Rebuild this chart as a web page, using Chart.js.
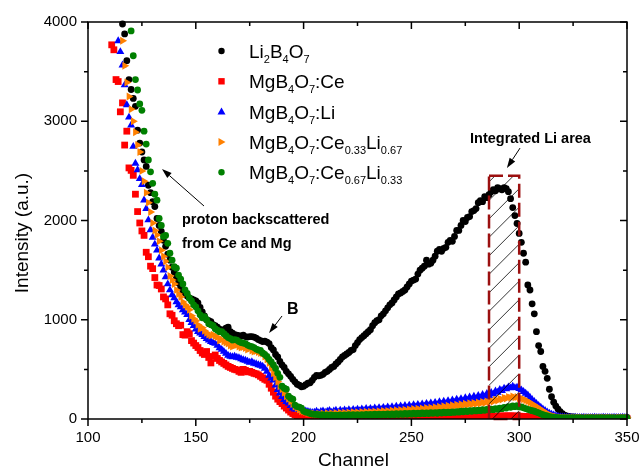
<!DOCTYPE html>
<html>
<head>
<meta charset="utf-8">
<script src="https://cdn.jsdelivr.net/npm/chart.js@4.4.1/dist/chart.umd.min.js"></script>
<style>
  html, body { margin: 0; padding: 0; background: #fff; }
</style>
</head>
<body>
<canvas id="myChart" width="642" height="468"></canvas>
<script>
// channel axis / intensity axis
var xMajor = [100, 150, 200, 250, 300, 350];
var xMinor = [125, 175, 225, 275, 325];
var yMajor = [0, 1000, 2000, 3000, 4000];
var yMinor = [500, 1500, 2500, 3500];

// Li2B4O7, one value per channel starting at liBoStart
var liBoStart = 116;
var liBo = [
    3980, 3880, 3610, 3420, 3320, 3230, 3150, 2910, 2780, 2690,
    2610, 2545, 2355, 2280, 2190, 2140, 2020, 1950, 1890, 1800,
    1740, 1660, 1600, 1530, 1480, 1420, 1370, 1330, 1290, 1270,
    1240, 1220, 1210, 1200, 1190, 1170, 1125, 1080, 1040, 1000,
    990, 980, 950, 940, 925, 905, 880, 900, 915, 925,
    880, 865, 850, 845, 840, 835, 845, 830, 825, 830,
    830, 825, 815, 800, 790, 780, 785, 775, 760, 720,
    695, 650, 625, 580, 545, 520, 480, 455, 430, 400,
    375, 350, 340, 325, 330, 345, 360, 365, 390, 420,
    440, 435, 440, 450, 470, 480, 500, 520, 530, 555,
    575, 600, 625, 640, 655, 670, 690, 700, 740, 770,
    800, 820, 840, 860, 880, 900, 940, 970, 990, 1000,
    1040, 1060, 1090, 1120, 1150, 1170, 1200, 1230, 1260, 1270,
    1285, 1300, 1330, 1360, 1390, 1400, 1410, 1460, 1500, 1520,
    1540, 1600, 1560, 1570, 1600, 1640, 1690, 1710, 1690, 1720,
    1730, 1780, 1800, 1790, 1840, 1900, 1900, 1950, 2000, 1990,
    2030, 2040, 2090, 2100, 2120, 2180, 2200, 2190, 2240, 2230,
    2260, 2290, 2310, 2300, 2330, 2320, 2310, 2330, 2320, 2290,
    2220, 2130, 2050, 1970, 1870, 1780, 1670, 1580, 1350, 1300,
    1160, 1060, 880, 740, 680, 530, 480, 410, 300, 225,
    170, 130, 100, 75,
    55, 40, 30, 25, 22, 20, 18, 17, 16, 15,
    15, 14, 15, 14, 15, 14, 15, 14, 15, 14,
    15, 14, 15, 14, 15, 14, 15, 14, 15, 14, 15
];

// MgB4O7:Ce
var mgCeStart = 111;
var mgCe = [
    3770, 3720, 3420, 3400, 3095, 3185, 2760, 2900, 2530, 2505,
    2455, 2265, 2090, 1975, 1895, 1850, 1680, 1635, 1540, 1515,
    1425, 1350, 1345, 1310, 1230, 1210, 1150, 1060, 1045, 990,
    960, 940, 945, 850, 845, 880, 860, 790, 765, 740,
    720, 690, 665, 650, 680, 620, 565, 630, 645, 610,
    590, 575, 560, 545, 530, 520, 510, 500, 495, 480,
    470, 500, 490, 475, 480, 470, 460, 455, 445, 430,
    415, 400, 390, 350, 310, 270, 230, 200, 175, 155,
    130, 110, 90, 70, 55, 42, 30, 22, 15,
    12, 10, 9, 8, 8, 7, 8, 7, 8, 7,
    8, 7, 8, 8, 7, 8, 8, 7, 8, 8,
    8, 9, 8, 9, 8, 9, 9, 8, 9, 9,
    9, 10, 9, 10, 10, 9, 10, 10, 11, 10,
    11, 10, 11, 11, 12, 11, 12, 12, 13, 12,
    13, 13, 14, 13, 14, 14, 15, 14, 15, 15,
    16, 15, 16, 16, 17, 17, 18, 17, 18, 18,
    19, 19, 20, 20, 21, 21, 22, 22, 23, 23,
    24, 24, 25, 25, 26, 26, 27, 27, 28, 28,
    29, 29, 30, 30, 30, 31, 31, 30, 30, 29,
    28, 27, 26, 25, 23, 21, 19, 17, 15, 13,
    12, 10, 9, 8, 7, 6, 6, 5, 5, 5,
    5, 4, 5, 5, 4, 5, 5, 4, 5, 5, 4, 5, 5, 4, 5, 5,
    4, 5, 5, 4, 5, 5, 4, 5, 5, 4, 5, 5, 4, 5, 5
];

// MgB4O7:Li
var mgLiStart = 114;
var mgLi = [
    3810, 3700, 3565, 3365, 3165, 3040, 2960, 2745, 2575, 2510,
    2420, 2360, 2205, 2120, 2005, 1905, 1830, 1760, 1700, 1620,
    1560, 1500, 1430, 1360, 1300, 1250, 1220, 1180, 1150, 1130,
    1100, 1075, 1050, 1000, 970, 940, 905, 880, 865, 850,
    830, 810, 795, 780, 770, 760, 740, 715, 700, 680,
    660, 640, 630, 625, 630, 620, 615, 605, 595, 590,
    580, 570, 575, 560, 555, 545, 540, 530, 510, 480,
    440, 410, 390, 340, 295, 260, 225, 195, 175, 160,
    135, 110, 100, 95, 105, 90, 85, 80, 75, 70, 65,
    68, 78, 62, 74, 80, 66, 76, 84, 67, 79,
    86, 70, 88, 74, 90, 76, 93, 78, 95, 81,
    98, 83, 100, 85, 104, 88, 106, 90, 110, 92,
    113, 95, 116, 97, 120, 100, 122, 103, 127, 106,
    130, 109, 134, 112, 138, 116, 142, 120, 146, 124,
    151, 128, 156, 132, 161, 137, 166, 142, 172, 147,
    178, 153, 184, 158, 190, 165, 197, 172, 204, 180,
    212, 186, 220, 194, 228, 202, 236, 210, 245, 220,
    255, 235, 266, 250, 280, 268, 295, 285, 310, 302,
    322, 312, 328, 315, 318, 305, 292, 275, 258, 240,
    218, 195, 175, 155, 135, 118, 100, 85, 70, 58,
    48, 40, 32, 26, 22, 20, 18, 17, 16, 16,
    15, 16, 15, 14, 15, 16, 15, 14, 15, 15, 16, 15, 14,
    15, 16, 15, 14, 15, 15, 16, 15, 14, 15, 16, 15, 15
];

// MgB4O7:Ce0.33Li0.67
var ce33Start = 116;
var ce33 = [
    3810, 3560, 3390, 3250, 3120, 3000, 2890, 2760, 2690, 2500,
    2395, 2280, 2180, 2085, 1975, 1900, 1855, 1790, 1700, 1640,
    1590, 1530, 1440, 1400, 1360, 1300, 1260, 1230, 1180, 1150,
    1130, 1100, 1040, 1010, 990, 950, 910, 920, 890, 870,
    850, 840, 850, 835, 825, 790, 800, 780, 770, 760,
    740, 730, 740, 745, 730, 720, 725, 715, 700, 710,
    690, 680, 685, 675, 665, 660, 630, 600, 565, 510,
    460, 420, 375, 330, 300, 265, 230, 205, 175, 150,
    125, 110, 95, 80, 75, 70, 60, 55, 55,
    52, 44, 54, 46, 55, 44, 58, 46, 59, 47,
    60, 48, 62, 50, 63, 51, 65, 53, 67, 55,
    68, 56, 70, 58, 72, 60, 74, 62, 76, 64,
    78, 66, 80, 68, 82, 70, 85, 73, 88, 76,
    91, 79, 94, 82, 97, 85, 100, 88, 103, 91,
    106, 94, 110, 98, 114, 102, 118, 106, 123, 111,
    128, 116, 133, 121, 138, 126, 143, 131, 148, 136,
    153, 141, 158, 146, 162, 150, 167, 155, 172, 160,
    177, 168, 185, 176, 195, 186, 205, 196, 214, 206,
    222, 214, 226, 218, 222, 210, 206, 198, 190, 178,
    165, 150, 138, 125, 110, 96, 82, 68, 55, 44,
    35, 28, 22, 18, 15, 14, 13, 12, 12, 12,
    12, 11, 12, 13, 12, 11, 12, 12, 13, 12, 11, 12, 12,
    13, 12, 11, 12, 12, 13, 12, 11, 12, 12, 13, 12, 12
];

// MgB4O7:Ce0.67Li0.33
var ce67Start = 120;
var ce67 = [
    3910, 3660, 3420, 3315, 3175, 3110, 2900, 2770, 2610, 2490,
    2375, 2265, 2205, 2020, 1950, 1840, 1850, 1770, 1670, 1600,
    1535, 1520, 1450, 1410, 1360, 1300, 1265, 1220, 1190, 1150,
    1130, 1090, 1050, 1020, 1030, 1000, 960, 950, 940, 910,
    895, 880, 880, 860, 840, 820, 810, 795, 800, 795,
    780, 770, 765, 760, 745, 735, 730, 720, 705, 695,
    690, 665, 650, 630, 600, 575, 545, 510, 460, 420,
    330, 310, 300, 230, 210, 200, 140, 125, 120, 110,
    80, 70, 65, 55, 50, 48, 46,
    44, 38, 43, 35, 41, 33, 41, 32, 40, 34,
    41, 33, 42, 34, 43, 35, 44, 35, 44, 37,
    45, 37, 46, 38, 47, 39, 48, 40, 49, 41,
    50, 42, 51, 43, 52, 44, 53, 45, 54, 46,
    56, 48, 57, 49, 58, 50, 60, 52, 61, 54,
    62, 55, 63, 57, 65, 58, 66, 60, 68, 62,
    70, 64, 72, 66, 75, 69, 78, 72, 81, 75,
    84, 78, 87, 81, 90, 84, 93, 87, 96, 90,
    99, 94, 104, 98, 109, 104, 116, 110, 124, 118,
    132, 124, 134, 122, 122, 113, 105, 97, 90, 84,
    78, 70, 62, 52, 44, 36, 30, 24, 20, 17,
    15, 13, 12, 12, 11, 11, 10, 10, 10, 10,
    10, 11, 10, 9, 10, 11, 10, 10, 9, 10, 11, 10,
    10, 9, 10, 11, 10, 10, 9, 10, 11, 10, 10, 10
];

// hatched "Integrated Li area" window (channel from/to, height)
var liAreaFrom = 286, liAreaTo = 300, liAreaTop = 2450;

var legendLabels = [
    [['Li', 0], ['2', 1], ['B', 0], ['4', 1], ['O', 0], ['7', 1]],
    [['MgB', 0], ['4', 1], ['O', 0], ['7', 1], [':Ce', 0]],
    [['MgB', 0], ['4', 1], ['O', 0], ['7', 1], [':Li', 0]],
    [['MgB', 0], ['4', 1], ['O', 0], ['7', 1], [':Ce', 0], ['0.33', 1], ['Li', 0], ['0.67', 1]],
    [['MgB', 0], ['4', 1], ['O', 0], ['7', 1], [':Ce', 0], ['0.67', 1], ['Li', 0], ['0.33', 1]]
];

var FONT = 'Arial, "Liberation Sans", sans-serif';

function pts(start, vals) {
    return vals.map(function (v, i) { return { x: start + i, y: v }; });
}

function arrow(ctx, x1, y1, x2, y2) {
    var a = Math.atan2(y2 - y1, x2 - x1), L = 10, W = 3.3;
    var bx = x2 - L * Math.cos(a), by = y2 - L * Math.sin(a);
    ctx.beginPath();
    ctx.moveTo(x1, y1);
    ctx.lineTo(bx, by);
    ctx.stroke();
    ctx.beginPath();
    ctx.moveTo(x2, y2);
    ctx.lineTo(bx + W * Math.sin(a), by - W * Math.cos(a));
    ctx.lineTo(bx - W * Math.sin(a), by + W * Math.cos(a));
    ctx.closePath();
    ctx.fill();
}

function marker(ctx, style, x, y, color) {
    ctx.fillStyle = color;
    ctx.beginPath();
    if (style === 'circle') {
        ctx.arc(x, y, 3.2, 0, Math.PI * 2);
    } else if (style === 'rect') {
        ctx.rect(x - 3.2, y - 3.2, 6.4, 6.4);
    } else if (style === 'up') {
        ctx.moveTo(x, y - 4); ctx.lineTo(x + 4, y + 3); ctx.lineTo(x - 4, y + 3);
    } else {
        ctx.moveTo(x + 4, y); ctx.lineTo(x - 3, y - 4); ctx.lineTo(x - 3, y + 4);
    }
    ctx.closePath();
    ctx.fill();
}

var overlay = {
    id: 'overlay',
    afterDatasetsDraw: function (chart) {
        var ctx = chart.ctx, xs = chart.scales.x, ys = chart.scales.y;
        var x1 = xs.getPixelForValue(liAreaFrom), x2 = xs.getPixelForValue(liAreaTo);
        var yT = ys.getPixelForValue(liAreaTop), yB = ys.getPixelForValue(0);
        ctx.save();
        // hatching
        ctx.beginPath();
        ctx.rect(x1, yT, x2 - x1, yB - yT);
        ctx.clip();
        ctx.strokeStyle = '#000';
        ctx.lineWidth = 0.8;
        var w = x2 - x1;
        for (var c = yT + 6; c < yB + w; c += 18.5) {
            ctx.beginPath();
            ctx.moveTo(x1, c);
            ctx.lineTo(x2, c - w);
            ctx.stroke();
        }
        ctx.restore();
        // dashed outline
        ctx.save();
        ctx.strokeStyle = '#9b1010';
        ctx.lineWidth = 2.5;
        ctx.setLineDash([14, 5]);
        ctx.strokeRect(x1, yT, w, yB - yT);
        ctx.restore();
    },
    afterDraw: function (chart) {
        var ctx = chart.ctx, a = chart.chartArea, xs = chart.scales.x, ys = chart.scales.y;
        ctx.save();
        ctx.strokeStyle = '#000';
        ctx.fillStyle = '#000';
        ctx.lineWidth = 1.5;
        ctx.strokeRect(a.left, a.top, a.right - a.left, a.bottom - a.top);
        // ticks: out on bottom/left, in on top/right
        ctx.beginPath();
        xMajor.concat(xMinor).forEach(function (v) {
            var len = xMajor.indexOf(v) >= 0 ? 7 : 4;
            var px = xs.getPixelForValue(v);
            ctx.moveTo(px, a.bottom); ctx.lineTo(px, a.bottom + len);
            ctx.moveTo(px, a.top); ctx.lineTo(px, a.top + len);
        });
        yMajor.concat(yMinor).forEach(function (v) {
            var len = yMajor.indexOf(v) >= 0 ? 7 : 4;
            var py = ys.getPixelForValue(v);
            ctx.moveTo(a.left, py); ctx.lineTo(a.left - len, py);
            ctx.moveTo(a.right, py); ctx.lineTo(a.right - len, py);
        });
        ctx.stroke();

        // axis titles
        ctx.font = '19px ' + FONT;
        ctx.textAlign = 'center';
        ctx.textBaseline = 'alphabetic';
        ctx.fillText('Channel', (a.left + a.right) / 2 - 4, 466);
        ctx.save();
        ctx.translate(28, 233);
        ctx.rotate(-Math.PI / 2);
        ctx.fillText('Intensity (a.u.)', 0, 0);
        ctx.restore();

        // legend
        ctx.textAlign = 'left';
        var styles = ['circle', 'rect', 'up', 'right'];
        var sets = chart.data.datasets;
        legendLabels.forEach(function (parts, i) {
            var y = 51 + i * 30.3;
            var st = i === 0 || i === 4 ? 'circle' : styles[i];
            marker(ctx, st, 221.5, y, sets[i].backgroundColor);
            ctx.fillStyle = '#000';
            var x = 249;
            parts.forEach(function (p) {
                ctx.font = (p[1] ? '11px ' : '19px ') + FONT;
                ctx.fillText(p[0], x, p[1] ? y + 12 : y + 7);
                x += ctx.measureText(p[0]).width;
            });
        });

        // annotations
        ctx.fillStyle = '#000';
        ctx.font = 'bold 14.5px ' + FONT;
        ctx.fillText('proton backscattered', xs.getPixelForValue(143.6), ys.getPixelForValue(1965));
        ctx.fillText('from Ce and Mg', xs.getPixelForValue(143.6), ys.getPixelForValue(1723));
        ctx.fillText('Integrated Li area', xs.getPixelForValue(277.2), ys.getPixelForValue(2784));
        ctx.font = 'bold 16px ' + FONT;
        ctx.fillText('B', xs.getPixelForValue(192.3), ys.getPixelForValue(1058));
        ctx.lineWidth = 1;
        arrow(ctx, xs.getPixelForValue(153.8), ys.getPixelForValue(2146), xs.getPixelForValue(134.3), ys.getPixelForValue(2519));
        arrow(ctx, xs.getPixelForValue(190.0), ys.getPixelForValue(1038), xs.getPixelForValue(184.0), ys.getPixelForValue(866));
        arrow(ctx, xs.getPixelForValue(300.4), ys.getPixelForValue(2730), xs.getPixelForValue(294.3), ys.getPixelForValue(2529));
        ctx.restore();
    }
};

var ctx = document.getElementById('myChart').getContext('2d');
var clipBox = { left: 6, top: 6, right: 6, bottom: 0 };

var chart = new Chart(ctx, {
    type: 'scatter',
    data: {
        datasets: [{
            label: 'Li2B4O7',
            data: pts(liBoStart, liBo),
            pointStyle: 'circle',
            pointRadius: 3.4,
            backgroundColor: '#000000',
            borderColor: '#000000',
            borderWidth: 0,
            order: 5,
            clip: clipBox
        }, {
            label: 'MgB4O7:Ce',
            data: pts(mgCeStart, mgCe),
            pointStyle: 'rect',
            pointRadius: 4.8,
            backgroundColor: '#ff0000',
            borderColor: '#ff0000',
            borderWidth: 0,
            order: 4,
            clip: clipBox
        }, {
            label: 'MgB4O7:Li',
            data: pts(mgLiStart, mgLi),
            pointStyle: 'triangle',
            pointRadius: 4.6,
            backgroundColor: '#0000ff',
            borderColor: '#0000ff',
            borderWidth: 0,
            order: 3,
            clip: clipBox
        }, {
            label: 'MgB4O7:Ce0.33Li0.67',
            data: pts(ce33Start, ce33),
            pointStyle: 'triangle',
            pointRotation: 90,
            pointRadius: 4.6,
            backgroundColor: '#ff8000',
            borderColor: '#ff8000',
            borderWidth: 0,
            order: 2,
            clip: clipBox
        }, {
            label: 'MgB4O7:Ce0.67Li0.33',
            data: pts(ce67Start, ce67),
            pointStyle: 'circle',
            pointRadius: 3.4,
            backgroundColor: '#008000',
            borderColor: '#008000',
            borderWidth: 0,
            order: 1,
            clip: clipBox
        }]
    },
    options: {
        responsive: false,
        animation: false,
        events: [],
        layout: { padding: { top: 22, right: 15, left: 0, bottom: 0 } },
        plugins: {
            legend: { display: false },
            tooltip: { enabled: false }
        },
        scales: {
            x: {
                type: 'linear',
                min: 100,
                max: 350,
                afterBuildTicks: function (s) { s.ticks = xMajor.map(function (v) { return { value: v }; }); },
                afterFit: function (s) { s.height = 49; s.paddingLeft = 0; s.paddingRight = 0; },
                grid: { display: false, drawTicks: false },
                border: { display: false },
                ticks: {
                    color: '#000', padding: 10, maxRotation: 0,
                    font: { family: FONT, size: 15 },
                    callback: function (v) { return String(v); }
                }
            },
            y: {
                type: 'linear',
                min: 0,
                max: 4000,
                afterBuildTicks: function (s) { s.ticks = yMajor.map(function (v) { return { value: v }; }); },
                afterFit: function (s) { s.width = 88; s.paddingTop = 0; s.paddingBottom = 0; },
                grid: { display: false, drawTicks: false },
                border: { display: false },
                ticks: {
                    color: '#000', padding: 11,
                    font: { family: FONT, size: 15 },
                    callback: function (v) { return String(v); }
                }
            }
        }
    },
    plugins: [overlay]
});
</script>
</body>
</html>
